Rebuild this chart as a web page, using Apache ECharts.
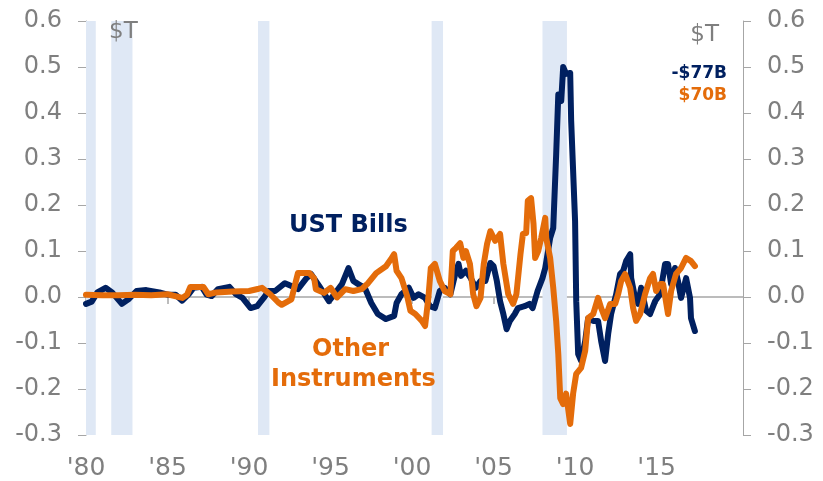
<!DOCTYPE html>
<html>
<head>
<meta charset="utf-8">
<script src="https://cdn.jsdelivr.net/npm/echarts@6/dist/echarts.min.js"></script>
<style>
  html, body {margin: 0; padding: 0; background: #fff;}
  #chart {width: 823px; height: 481px;}
</style>
</head>
<body>
<div id="chart"></div>
<script>
// 12-month change, $T
var billsYears = [1980.0, 1980.35, 1980.7, 1981.2, 1981.6, 1982.2, 1982.6, 1983.1, 1983.7, 1984.5, 1985.0, 1985.5, 1985.9,
    1986.3, 1986.6, 1987.1, 1987.4, 1987.7, 1988.1, 1988.8, 1989.2, 1989.6, 1990.1, 1990.5, 1990.9, 1991.2, 1991.6,
    1992.2, 1992.6, 1993.0, 1993.5, 1993.8, 1994.3, 1994.9, 1995.3, 1995.7, 1996.1, 1996.4, 1996.7, 1997.1, 1997.5,
    1997.9, 1998.4, 1998.9, 1999.05, 1999.35, 1999.8, 2000.1, 2000.4, 2000.8, 2001.1, 2001.4, 2001.7, 2002.0, 2002.35,
    2002.65, 2002.85, 2003.0, 2003.3, 2003.6, 2003.9, 2004.2, 2004.5, 2004.8, 2005.0, 2005.2, 2005.4, 2005.6, 2005.8,
    2006.0, 2006.3, 2006.5, 2006.9, 2007.2, 2007.4, 2007.7, 2008.0, 2008.17, 2008.47, 2008.66, 2008.84, 2008.97,
    2009.15, 2009.27, 2009.45, 2009.7, 2009.76, 2010.0, 2010.07, 2010.19, 2010.37, 2010.62, 2010.8, 2011.11, 2011.41,
    2011.6, 2011.84, 2012.03, 2012.21, 2012.52, 2012.76, 2012.95, 2013.13, 2013.38, 2013.44, 2013.68, 2013.87, 2014.05,
    2014.36, 2014.6, 2014.91, 2015.21, 2015.52, 2015.7, 2015.89, 2016.13, 2016.31, 2016.5, 2016.81, 2017.05, 2017.11,
    2017.35];
var billsValues = [-0.015, -0.01, 0.01, 0.02, 0.01, -0.015, -0.005, 0.013, 0.015, 0.01, 0.005, 0.005, -0.008,
    0.006, 0.02, 0.022, 0.005, 0.002, 0.017, 0.022, 0.006, -0.002, -0.024, -0.02, -0.002, 0.013, 0.013,
    0.03, 0.024, 0.017, 0.04, 0.05, 0.024, -0.009, 0.009, 0.028, 0.063, 0.035, 0.028, 0.02, -0.013,
    -0.037, -0.048, -0.041, -0.013, 0.006, 0.02, -0.002, 0.006, -0.002, -0.02, -0.024, 0.013, 0.02, 0.006,
    0.05, 0.072, 0.046, 0.057, 0.041, 0.02, 0.035, 0.035, 0.074, 0.067, 0.035, -0.009, -0.037, -0.07,
    -0.052, -0.037, -0.024, -0.02, -0.015, -0.024, 0.013, 0.041, 0.063, 0.128, 0.15, 0.31, 0.44,
    0.426, 0.5, 0.485, 0.487, 0.383, 0.165, -0.009, -0.124, -0.139, -0.096, -0.046, -0.052, -0.052,
    -0.096, -0.139, -0.08, -0.037, 0.006, 0.05, 0.057, 0.078, 0.093, 0.041, -0.002, -0.015, 0.02,
    -0.03, -0.037, -0.009, 0.006, 0.072, 0.072, 0.028, 0.063, 0.035, -0.002, 0.041, -0.002, -0.046,
    -0.074];

var otherYears = [1980.0, 1981.0, 1982.0, 1983.0, 1984.0, 1985.0, 1985.9, 1986.2, 1986.4, 1987.2, 1987.5, 1988.0, 1989.0,
    1990.0, 1990.6, 1990.8, 1991.3, 1991.8, 1992.0, 1992.6, 1993.0, 1993.7, 1994.0, 1994.1, 1994.6, 1995.0, 1995.4,
    1995.9, 1996.4, 1996.9, 1997.3, 1997.8, 1998.4, 1998.7, 1998.9, 1999.05, 1999.35, 1999.7, 1999.9, 2000.2, 2000.6,
    2000.8, 2001.0, 2001.15, 2001.4, 2001.7, 2002.0, 2002.35, 2002.5, 2002.7, 2002.95, 2003.15, 2003.3, 2003.55,
    2003.75, 2003.95, 2004.2, 2004.4, 2004.6, 2004.8, 2005.1, 2005.4, 2005.6, 2005.9, 2006.2, 2006.4, 2006.65,
    2006.8, 2007.0, 2007.1, 2007.3, 2007.45, 2007.55, 2007.74, 2007.92, 2008.17, 2008.23, 2008.47, 2008.66, 2008.84,
    2008.97, 2009.09, 2009.27, 2009.45, 2009.7, 2009.88, 2010.07, 2010.37, 2010.62, 2010.8, 2011.11, 2011.41, 2011.6,
    2011.84, 2012.15, 2012.46, 2012.64, 2012.83, 2013.07, 2013.38, 2013.56, 2013.74, 2013.99, 2014.29, 2014.6,
    2014.78, 2014.97, 2015.21, 2015.4, 2015.7, 2015.89, 2016.19, 2016.5, 2016.81, 2017.11, 2017.35];
var otherValues = [0.005, 0.004, 0.004, 0.005, 0.004, 0.006, -0.002, 0.005, 0.022, 0.022, 0.006, 0.01, 0.012,
    0.013, 0.018, 0.02, 0.006, -0.012, -0.017, -0.005, 0.052, 0.052, 0.04, 0.017, 0.009, 0.02, -0.001,
    0.017, 0.013, 0.017, 0.03, 0.052, 0.067, 0.082, 0.093, 0.057, 0.041, 0.002, -0.03, -0.037, -0.052,
    -0.063, -0.002, 0.063, 0.072, 0.035, 0.013, 0.006, 0.1, 0.107, 0.117, 0.085, 0.1, 0.072,
    0.006, -0.02, -0.002, 0.072, 0.115, 0.143, 0.122, 0.137, 0.072, 0.006, -0.015, 0.006, 0.093,
    0.137, 0.139, 0.209, 0.215, 0.159, 0.085, 0.1, 0.128, 0.172, 0.128, 0.085, 0.02, -0.052,
    -0.124, -0.22, -0.233, -0.21, -0.276, -0.21, -0.167, -0.154, -0.117, -0.046, -0.037, -0.002, -0.024,
    -0.046, -0.015, -0.015, 0.006, 0.035, 0.05, 0.02, -0.024, -0.052, -0.037, 0.006, 0.041,
    0.05, 0.013, 0.028, 0.028, -0.037, 0.013, 0.05, 0.063, 0.085, 0.078, 0.067];

var recessionStart = [1980.0, 1981.55, 1990.55, 2001.2, 2008.0];
var recessionEnd = [1980.6, 1982.85, 1991.25, 2001.9, 2009.5];
var yearTicks = [1980, 1985, 1990, 1995, 2000, 2005, 2010, 2015];

var navy = '#002060';
var orange = '#e46c0a';
var grey = '#7f7f7f';
var axisGrey = '#a6a6a6';
var font = '"DejaVu Sans", Verdana, sans-serif';

var zip = function (xs, ys) {
    var out = [];
    for (var i = 0; i < xs.length; i++) {
        out.push([xs[i], ys[i]]);
    }
    return out;
};

var bands = [];
for (var i = 0; i < recessionStart.length; i++) {
    bands.push([{xAxis: recessionStart[i]}, {xAxis: recessionEnd[i]}]);
}

var yAxisBase = function (pos) {
    return {
        type: 'value', position: pos, min: -0.3, max: 0.6, interval: 0.1,
        splitLine: {show: false},
        axisLine: {show: true, lineStyle: {color: axisGrey, width: 1}},
        axisTick: {show: true, length: 8, lineStyle: {color: axisGrey}},
        axisLabel: {
            color: grey, fontSize: 24, fontFamily: font, margin: 24,
            formatter: function (v) { return v.toFixed(1); }
        }
    };
};

var label = function (text, pos, color, size, weight) {
    var el = {type: 'text', z: 100, style: {text: text, fill: color, fontSize: size, fontWeight: weight || 'normal', fontFamily: font}};
    for (var k in pos) {
        el[k] = pos[k];
    }
    return el;
};

var chart = echarts.init(document.getElementById('chart'));
chart.setOption({
    animation: false,
    grid: {left: 86, right: 80, top: 21, bottom: 46},
    xAxis: [{
        type: 'value', min: 1980, max: 2020.3, interval: 5,
        axisLine: {show: false, onZero: false},
        axisTick: {show: false},
        splitLine: {show: false},
        axisLabel: {
            color: grey, fontSize: 25, fontFamily: font, margin: 21,
            showMaxLabel: false,
            formatter: function (v) {
                return yearTicks.indexOf(v) >= 0 ? "'" + String(v).slice(2) : '';
            }
        }
    }, {
        type: 'value', min: 1980, max: 2020.3, interval: 5, position: 'bottom',
        axisLine: {show: true, onZero: true, lineStyle: {color: axisGrey, width: 1.5}},
        axisTick: {show: true, length: 7, lineStyle: {color: axisGrey, width: 1.5}, customValues: yearTicks},
        axisLabel: {show: false, customValues: yearTicks},
        splitLine: {show: false}
    }],
    yAxis: [yAxisBase('left'), yAxisBase('right')],
    graphic: [
        label('$T', {left: 109, top: 21}, grey, 23),
        label('$T', {right: 104, top: 24}, grey, 23),
        label('-$77B', {right: 96, top: 65}, navy, 17, 'bold'),
        label('$70B', {right: 96, top: 87}, orange, 17, 'bold'),
        label('UST Bills', {left: 289, top: 214}, navy, 24, 'bold'),
        label('Other', {left: 312, top: 338}, orange, 24, 'bold'),
        label('Instruments', {left: 271, top: 368}, orange, 24, 'bold')
    ],
    series: [{
        name: 'recessions', type: 'line', data: [], xAxisIndex: 0, yAxisIndex: 0, silent: true, z: 1,
        markArea: {silent: true, itemStyle: {color: '#dfe8f5'}, data: bands}
    }, {
        name: 'UST Bills', type: 'line', xAxisIndex: 0, yAxisIndex: 0,
        data: zip(billsYears, billsValues), showSymbol: false, smooth: false,
        lineStyle: {color: navy, width: 6, cap: 'round', join: 'round'}
    }, {
        name: 'Other Instruments', type: 'line', xAxisIndex: 0, yAxisIndex: 0,
        data: zip(otherYears, otherValues), showSymbol: false, smooth: false,
        lineStyle: {color: orange, width: 6, cap: 'round', join: 'round'}
    }]
});
</script>
</body>
</html>
